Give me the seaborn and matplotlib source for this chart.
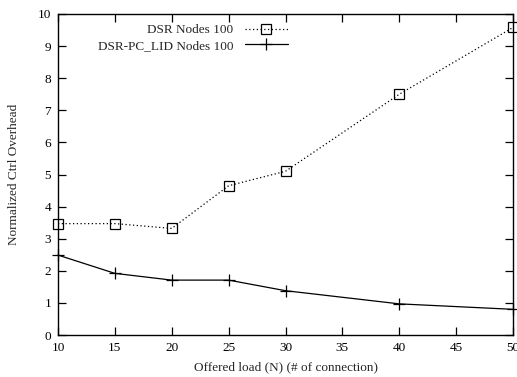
import matplotlib
matplotlib.use("Agg")
import matplotlib.pyplot as plt
import seaborn as sns
import pandas as pd

offered_load = [10, 15, 20, 25, 30, 40, 50]
dsr = [3.47, 3.47, 3.32, 4.65, 5.10, 7.50, 9.58]
dsr_pc_lid = [2.49, 1.92, 1.71, 1.71, 1.38, 0.97, 0.80]
x_ticks = [10, 15, 20, 25, 30, 35, 40, 45, 50]
y_ticks = list(range(0, 11))

sns.set_theme(style="ticks")
plt.rcParams['font.family'] = ['Liberation Serif', 'DejaVu Serif']
plt.rcParams['mathtext.default'] = 'regular'

FS = 9.5

fig = plt.figure(figsize=(5.17, 3.77), dpi=100)
ax = fig.add_axes([58/517, 1 - 335/377, (513-58)/517, (335-14)/377])

df1 = pd.DataFrame({"x": offered_load, "y": dsr})
df2 = pd.DataFrame({"x": offered_load, "y": dsr_pc_lid})

sns.lineplot(data=df1, x="x", y="y", ax=ax, color="black", linewidth=0.9,
             linestyle=(0, (1, 2)), marker="s", markersize=7,
             markerfacecolor="none", markeredgecolor="black", markeredgewidth=0.9,
             label="DSR Nodes 100", clip_on=False)
sns.lineplot(data=df2, x="x", y="y", ax=ax, color="black", linewidth=0.9,
             marker="+", markersize=8, markeredgewidth=0.9,
             markeredgecolor="black", markerfacecolor="black",
             label="DSR-PC_LID Nodes 100", clip_on=False)

ax.set_xlim(10, 50)
ax.set_ylim(0, 10)
ax.set_xticks(x_ticks)
ax.set_yticks(y_ticks)
ax.tick_params(direction="in", length=6, width=0.9, top=True, right=True,
               labelsize=FS, colors="black", pad=5)
for s in ax.spines.values():
    s.set_visible(True)
    s.set_linewidth(1.0)
    s.set_color("black")

ax.set_xlabel("Offered load (N) (# of connection)", fontsize=FS, labelpad=5)
ax.set_ylabel("Normalized Ctrl Overhead", fontsize=FS, labelpad=13)

leg = ax.legend(loc="upper right", bbox_to_anchor=(0.516, 0.985), frameon=False,
                markerfirst=False, fontsize=FS, handlelength=3.2, handletextpad=0.9,
                labelspacing=0.25, borderaxespad=0, numpoints=1)

fig.savefig("out.png", dpi=100)
